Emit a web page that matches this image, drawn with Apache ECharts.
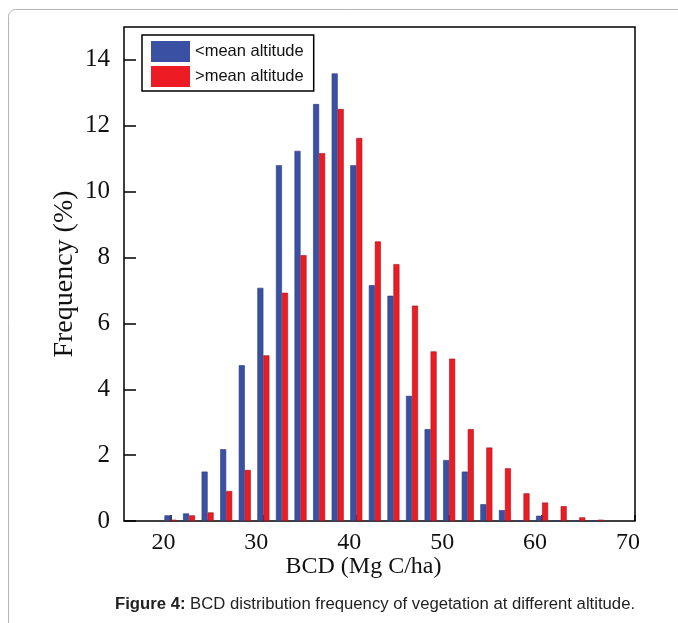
<!DOCTYPE html>
<html>
<head>
<meta charset="utf-8">
<script src="https://cdn.jsdelivr.net/npm/echarts@6/dist/echarts.min.js"></script>
<style>
  html, body { margin: 0; padding: 0; background: #fff; }
  #chart { width: 678px; height: 623px; }
</style>
</head>
<body>
<div id="chart"></div>
<script>
// bin centres (Mg C/ha)
var binCenters = [20, 22, 24, 26, 28, 30, 32, 34, 36, 38, 40, 42, 44, 46, 48, 50, 52, 54, 56, 58, 60, 62, 64, 66];
// frequency (%)
var belowMean = [0.17, 0.23, 1.50, 2.18, 4.73, 7.08, 10.80, 11.24, 12.66, 13.59, 10.80, 7.16, 6.84, 3.80, 2.79, 1.85, 1.50, 0.51, 0.33, 0, 0.16, 0, 0, 0];
var aboveMean = [0.04, 0.17, 0.26, 0.91, 1.55, 5.03, 6.93, 8.07, 11.17, 12.51, 11.63, 8.49, 7.80, 6.54, 5.15, 4.93, 2.79, 2.23, 1.60, 0.84, 0.56, 0.45, 0.11, 0.04];
var xTicks = [20, 30, 40, 50, 60, 70];
var yTicks = [0, 2, 4, 6, 8, 10, 12, 14];

function pairs(vals) {
    return binCenters.map(function (c, i) { return [c, vals[i]]; });
}

var chart = echarts.init(document.getElementById('chart'));
var serif = '"Liberation Serif", "Times New Roman", serif';
var sans = '"Liberation Sans", Arial, sans-serif';

var option = {
    animation: false,
    grid: {
        left: 124, right: 43, top: 27, bottom: 102,
        show: true, borderColor: '#000', borderWidth: 1.5, backgroundColor: 'transparent'
    },
    legend: {
        left: 142, top: 35,
        orient: 'vertical',
        icon: 'rect',
        itemWidth: 39, itemHeight: 21, itemGap: 4,
        padding: [6, 10, 4, 9],
        borderColor: '#000', borderWidth: 1.5,
        backgroundColor: '#fff',
        itemStyle: { borderWidth: 0 },
        textStyle: { fontFamily: sans, fontSize: 16.5, color: '#111' },
        data: ['<mean altitude', '>mean altitude']
    },
    xAxis: {
        type: 'value',
        min: 15, max: 70,
        name: 'BCD (Mg C/ha)',
        nameLocation: 'middle',
        nameGap: 34,
        nameMoveOverlap: false,
        nameTextStyle: { fontFamily: serif, fontSize: 24, color: '#111', padding: [0, 32, 0, 0] },
        axisLine: { show: false },
        axisTick: { show: true, inside: true, length: 6, customValues: xTicks, lineStyle: { color: '#000', width: 1.5 } },
        axisLabel: { customValues: xTicks, fontFamily: serif, fontSize: 24, color: '#111', margin: 10, padding: [0, 14, 0, 0] },
        splitLine: { show: false }
    },
    yAxis: {
        type: 'value',
        min: 0, max: 15,
        name: 'Frequency (%)',
        nameLocation: 'middle',
        nameGap: 45,
        nameMoveOverlap: false,
        nameTextStyle: { fontFamily: serif, fontSize: 28, color: '#111' },
        axisLine: { show: false },
        axisTick: { show: true, inside: true, length: 12, customValues: yTicks, lineStyle: { color: '#000', width: 1.5 } },
        axisLabel: { customValues: yTicks, fontFamily: serif, fontSize: 25, color: '#111', margin: 14 },
        splitLine: { show: false }
    },
    series: [
        {
            name: '<mean altitude',
            type: 'bar',
            barWidth: 6,
            barGap: '0%',
            itemStyle: { color: '#3a51a3', borderColor: '#2a3a7c', borderWidth: 0.6 },
            data: pairs(belowMean)
        },
        {
            name: '>mean altitude',
            type: 'bar',
            barWidth: 6,
            barGap: '0%',
            itemStyle: { color: '#ed1c24', borderColor: '#9a1419', borderWidth: 0.6 },
            data: pairs(aboveMean)
        }
    ],
    graphic: [
        {
            type: 'rect',
            shape: { x: 8.5, y: 9.5, width: 720, height: 720, r: 7 },
            style: { fill: 'none', stroke: '#b5b5b5', lineWidth: 1 },
            silent: true
        },
        {
            type: 'text',
            left: 115,
            top: 596,
            style: {
                rich: {
                    b: { fontFamily: sans, fontSize: 16.7, fontWeight: 'bold', fill: '#222' },
                    n: { fontFamily: sans, fontSize: 16.7, fill: '#222' }
                },
                text: '{b|Figure 4:}{n| BCD distribution frequency of vegetation at different altitude.}'
            }
        }
    ]
};

chart.setOption(option);
</script>
</body>
</html>
